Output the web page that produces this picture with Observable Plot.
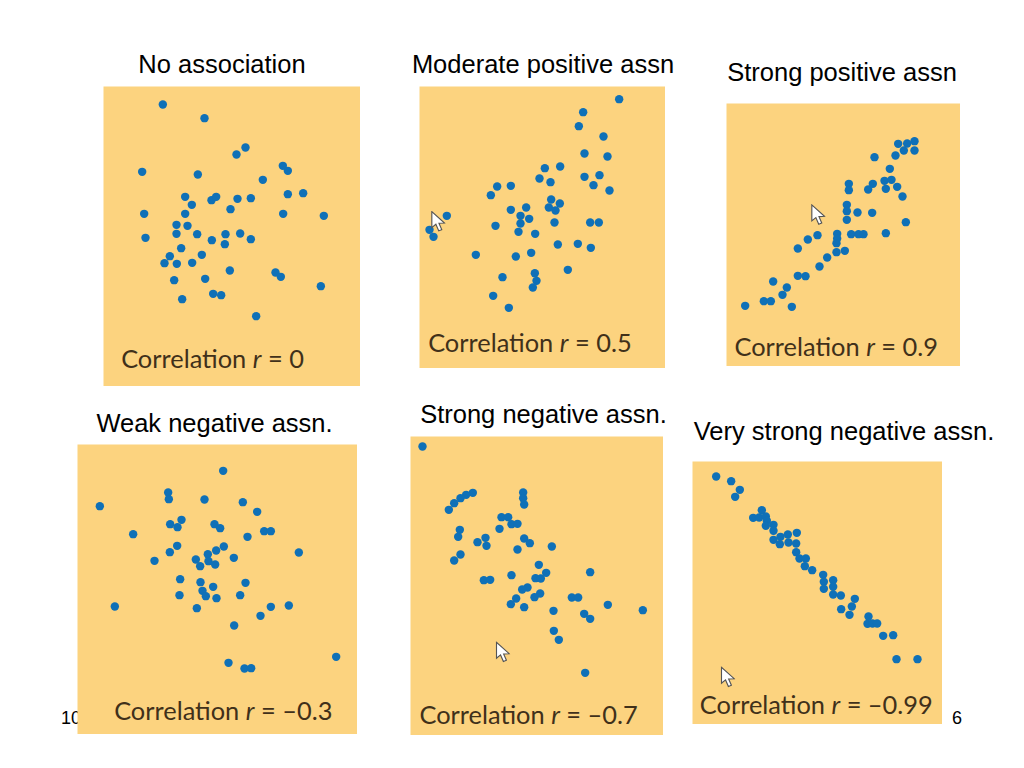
<!DOCTYPE html>
<html><head><meta charset="utf-8">
<script src="https://cdn.jsdelivr.net/npm/d3@7"></script>
<script src="https://cdn.jsdelivr.net/npm/@observablehq/plot@0.6"></script>
<style>
html,body{margin:0;padding:0;background:#fff;width:1024px;height:768px;overflow:hidden}
#page{position:relative;width:1024px;height:768px}
.t{position:absolute;font-family:"Liberation Sans",Arial,sans-serif;color:#000;white-space:nowrap;line-height:1;transform:translate(-50%,0)}
.p{position:absolute}
.p svg{display:block}
</style></head><body><div id="page"></div>
<script>
// Titles and captions
const titles = ["No association","Moderate positive assn","Strong positive assn","Weak negative assn.","Strong negative assn.","Very strong negative assn."];
const captions = ["Correlation r = 0","Correlation r = 0.5","Correlation r = 0.9","Correlation r = –0.3","Correlation r = –0.7","Correlation r = –0.99"];
const pageNumbers = ["10","6"];

// Points of each panel on a scale of one third of a pixel
const p1x=[187,312,435,408,125,292,547,562,487,254,333,347,411,451,562,608,274,390,254,131,548,670,228,261,228,290,375,419,135,334,373,451,242,304,208,192,229,275,388,525,541,221,314,661,338,362,245,467];
const p1y=[57,98,186,207,259,267,241,256,283,334,344,334,340,338,326,323,358,371,385,385,385,391,418,421,445,446,446,444,457,464,476,461,488,508,512,533,535,532,555,561,574,584,580,602,625,629,641,692];
const p2x=[611,503,490,564,507,576,388,434,507,552,372,405,534,245,286,582,226,407,433,332,400,420,286,94,315,341,315,417,524,550,240,42,54,309,359,427,487,526,347,181,301,457,358,261,363,352,233,280];
const p2y=[41,80,122,153,204,213,248,243,274,269,279,290,299,303,301,315,329,342,354,366,366,375,373,391,391,400,414,411,411,411,421,433,454,439,445,477,475,487,502,508,513,553,563,575,586,606,631,667];
const p3x=[527,554,576,544,576,519,456,502,486,507,451,379,437,379,490,524,540,373,373,405,449,373,550,344,386,408,423,490,285,256,344,342,226,342,367,314,291,226,249,152,193,180,124,145,68,208];
const p3y=[130,129,122,150,150,165,170,205,241,238,250,250,267,269,265,259,288,313,332,336,337,358,365,400,401,401,401,398,404,417,414,428,444,455,451,471,498,526,527,543,561,583,602,602,616,619];
const p4x=[503,338,340,447,562,133,605,378,344,366,477,494,233,626,646,576,505,365,482,343,457,730,421,535,297,459,479,434,374,435,570,473,441,451,372,483,554,178,424,646,700,615,536,842,519,567,587];
const p4y=[91,156,176,177,185,197,214,238,251,260,251,263,281,272,272,289,318,316,330,335,341,336,357,352,361,362,372,377,416,425,427,439,451,467,464,473,464,498,503,499,495,526,555,649,667,684,683];
const p5x=[51,202,182,165,146,130,353,353,356,288,308,318,336,282,163,158,240,216,243,356,373,336,439,165,146,400,554,422,318,390,406,235,254,366,350,404,387,332,499,518,316,356,607,444,536,554,712,445,460,539];
const p5y=[42,181,187,197,212,232,180,197,216,254,254,275,274,289,292,313,316,329,340,318,332,351,342,366,384,397,419,421,428,437,438,443,442,465,471,483,494,498,495,495,515,524,517,535,544,559,533,595,622,721];
const p6x=[83,128,154,140,220,194,212,232,235,232,255,255,255,276,274,298,325,300,323,323,333,352,349,371,404,406,434,406,434,434,457,499,490,458,483,540,537,552,566,584,614,624,687];
const p6y=[57,71,97,118,158,181,180,177,190,205,202,220,247,238,260,231,226,255,258,284,303,303,326,338,352,373,368,394,388,411,414,424,447,455,472,477,499,498,498,535,533,605,605];
const pointsX=[p1x,p2x,p3x,p4x,p5x,p6x], pointsY=[p1y,p2y,p3y,p4y,p5y,p6y];

// Panel frames and scales
const frameLeft=[103,419,726,77,410,692], frameTop=[86,86,103,444,436,461], frameW=[257,246,234,280,253,250], frameH=[300,282,263,290,299,263];
const domainX=[[9,780],[12,750],[12,714],[66,906],[15,774],[12,762]], domainY=[[903,3],[849,3],[798,9],[882,12],[909,12],[801,12]];
const captionX=[62,38,36,176,42,34], captionY=[846,800,765,839,875,768], captionSize=[25.4,25.4,25.4,25.4,25.4,25.4];
const cursorX=[null,68,287,null,292,118], cursorY=[null,408,343,null,659,659];

// Title placement
const titleX=[222,543,842,214.5,543.5,844], titleTop=[52,52,60,411,402,419];
const pageNumX=[71,957], pageNumTop=[709,709];

const cursorSvg='data:image/svg+xml,'+encodeURIComponent('<svg xmlns="http://www.w3.org/2000/svg" viewBox="0 0 13 20"><path d="M1 1 L1 15.5 L4.5 12.5 L7 18.5 L9.6 17.4 L7.2 11.6 L12 11.4 Z" fill="#fff" stroke="#555" stroke-width="1"/></svg>');

const page=document.getElementById("page");
function addText(s,x,top,size){const d=document.createElement("div");d.className="t";d.textContent=s;d.style.left=x+"px";d.style.top=top+"px";d.style.fontSize=size+"px";page.appendChild(d);}
titles.forEach((s,i)=>addText(s,titleX[i],titleTop[i],25.5));
pageNumbers.forEach((s,i)=>addText(s,pageNumX[i],pageNumTop[i],18));

titles.forEach((_,i)=>{
  const pts=pointsX[i].map((x,j)=>({x,y:pointsY[i][j]}));
  const marks=[
    Plot.frame({fill:"#fcd37f",stroke:null}),
    Plot.dot(pts,{x:"x",y:"y",r:4.2,fill:"#0f70b7"}),
    Plot.text([captions[i]],{x:[captionX[i]],y:[captionY[i]],textAnchor:"start",lineAnchor:"bottom",fill:"#40301a",fontSize:captionSize[i],className:"cap"})
  ];
  if(cursorX[i]!==null) marks.push(Plot.image([0],{x:[cursorX[i]],y:[cursorY[i]],src:[cursorSvg],width:15,height:22,preserveAspectRatio:"none"}));
  const svg=Plot.plot({width:frameW[i],height:frameH[i],margin:0,
    x:{domain:domainX[i],axis:null},y:{domain:domainY[i],axis:null},
    style:{background:"transparent",fontFamily:"Lato,sans-serif"},marks});
  d3.select(svg).selectAll(".cap text").each(function(){
    const m=this.textContent.match(/^(Correlation )r( = .*)$/); if(!m) return;
    const t=d3.select(this).text(m[1]);
    t.append("tspan").attr("font-style","italic").text("r");
    t.append("tspan").text(m[2]);
  });
  const w=document.createElement("div");w.className="p";w.style.left=(frameLeft[i]-0.5)+"px";w.style.top=(frameTop[i]-0.5)+"px";
  w.appendChild(svg);page.appendChild(w);
});
</script></body></html>
